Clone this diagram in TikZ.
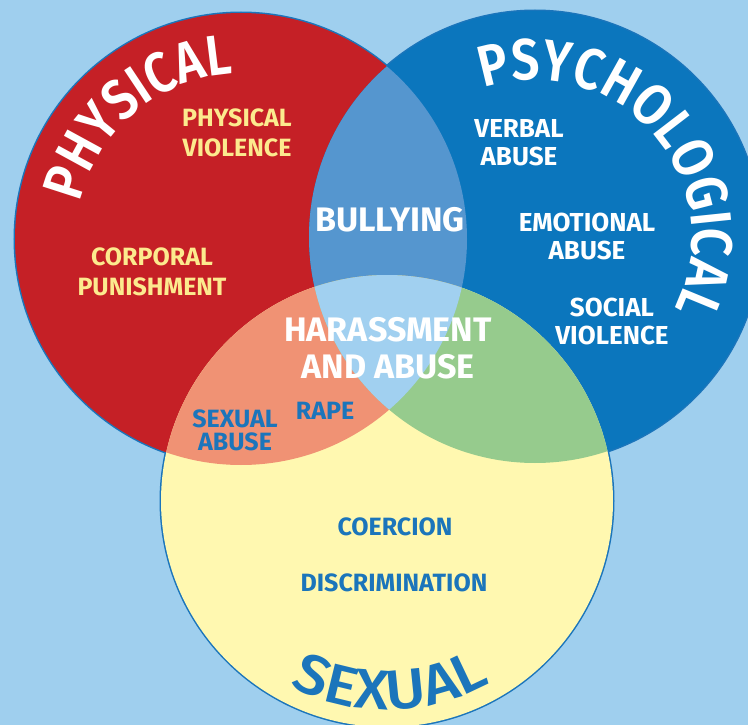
\documentclass[tikz,border=0pt]{standalone}
\usepackage{fontspec}
\setmainfont{Fira Sans}
\newfontfamily\titlefont{Fira Sans SemiBold}[FakeStretch=0.86]
\newfontfamily\sexfont{Fira Sans Medium}[FakeStretch=1.1]
\usetikzlibrary{decorations.text}

\definecolor{skyback}{HTML}{9FCFEE}
\definecolor{physred}{HTML}{C52026}
\definecolor{psycblue}{HTML}{0B76BD}
\definecolor{sexyellow}{HTML}{FFF8B0}
\definecolor{lensrb}{HTML}{5596CF}
\definecolor{lensry}{HTML}{F09274}
\definecolor{lensby}{HTML}{96CB8D}
\definecolor{lensall}{HTML}{A1D0F0}
\definecolor{rimblue}{HTML}{1B75BB}
\definecolor{softyellow}{HTML}{FCEA8E}

\begin{document}
\begin{tikzpicture}[x=1pt, y=1pt,
    whitelbl/.style={text=white, font=\bfseries\fontsize{26}{28}\selectfont, align=center, inner sep=0pt},
    yellowlbl/.style={whitelbl, text=softyellow, font=\bfseries\fontsize{25}{30}\selectfont},
    bluelbl/.style={whitelbl, text=rimblue, font=\bfseries\fontsize{25}{23}\selectfont},
    biglbl/.style={whitelbl, font=\bfseries\fontsize{34}{37}\selectfont}]
    % Background
    \useasboundingbox (0,0) rectangle (748,-725);
    \fill[skyback] (0,0) rectangle (748,-725);

    % Circle centres
    \coordinate (phys) at (241,-239);
    \coordinate (psyc) at (535,-237);
    \coordinate (sexc) at (387,-501);

    % Outer rim, then the three sets
    \foreach \c in {phys,psyc,sexc}
        \draw[rimblue, line width=3pt] (\c) circle[radius=226];
    \fill[physred] (phys) circle[radius=226];
    \fill[psycblue] (psyc) circle[radius=226];
    \fill[sexyellow] (sexc) circle[radius=226];

    % Overlaps
    \begin{scope}
        \clip (phys) circle[radius=226];
        \fill[lensrb] (psyc) circle[radius=226];
        \fill[lensry] (sexc) circle[radius=226];
    \end{scope}
    \begin{scope}
        \clip (psyc) circle[radius=226];
        \fill[lensby] (sexc) circle[radius=226];
        \clip (phys) circle[radius=226];
        \fill[lensall] (sexc) circle[radius=226];
    \end{scope}

    % Curved set names
    \path[decorate, decoration={text along path, text align=center, text color=white,
        text={|\titlefont\fontsize{57}{57}\selectfont|PHYSICAL}}]
        (phys) ++(180:165) arc[start angle=180, end angle=80, radius=165];
    \path[decorate, decoration={text along path, text align=center, text color=white,
        text={|\titlefont\fontsize{58}{58}\selectfont|PSYCHOLOGICAL}}]
        (psyc) ++(124:157) arc[start angle=124, end angle=-42, radius=157];
    \path[decorate, decoration={text along path, text align=center, text color=rimblue,
        text={|\sexfont\fontsize{56}{56}\selectfont|SEXUAL}}]
        (sexc) ++(-132:209) arc[start angle=-132, end angle=-46, radius=209];

    % Physical
    \node[yellowlbl] (physviol) at (237,-133) {PHYSICAL\\VIOLENCE};
    \node[yellowlbl] (corporal) at (152,-272) {CORPORAL\\PUNISHMENT};

    % Psychological
    \node[whitelbl] (verbal) at (519,-143) {VERBAL\\ABUSE};
    \node[whitelbl] (emotional) at (587,-236) {EMOTIONAL\\ABUSE};
    \node[whitelbl] (social) at (612,-321) {SOCIAL\\VIOLENCE};

    % Overlaps
    \node[biglbl] (bullying) at (390,-220) {BULLYING};
    \node[biglbl] (harass) at (388,-348) {HARASSMENT\\AND ABUSE};
    \node[bluelbl] (rape) at (325,-411) {RAPE};
    \node[bluelbl] (sexabuse) at (235,-430) {SEXUAL\\ABUSE};

    % Sexual
    \node[bluelbl] (coercion) at (395,-527) {COERCION};
    \node[bluelbl] (discrim) at (394,-583) {DISCRIMINATION};
\end{tikzpicture}
\end{document}
